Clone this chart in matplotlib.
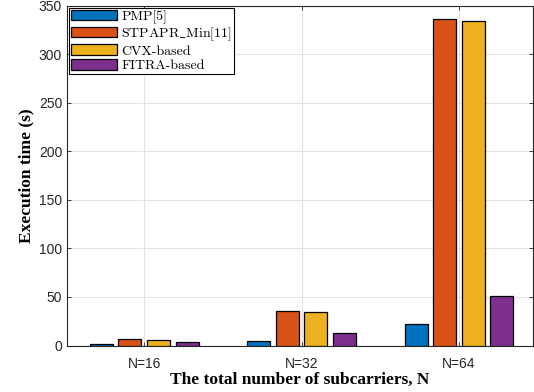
import numpy as np
import matplotlib
matplotlib.use("Agg")
import matplotlib.pyplot as plt

plt.rcParams["mathtext.fontset"] = "cm"

# Execution time per algorithm for each subcarrier count
groups = ["N=16", "N=32", "N=64"]
methods = ["PMP[5]", r"STPAPR$\_$Min[11]", "CVX-based", "FITRA-based"]
pmp = [1.3, 5.1, 21.9]
stpapr = [6.8, 35.5, 336.5]
cvx = [5.7, 34.9, 334.5]
fitra = [3.4, 12.9, 51.3]
yticks = [0, 50, 100, 150, 200, 250, 300, 350]

colors = ["#0072BD", "#D95319", "#EDB120", "#7E2F8E"]

fig = plt.figure(figsize=(5.34, 3.92), dpi=100)
ax = fig.add_axes([67 / 534, 46.5 / 392, 466 / 534, 340 / 392])

x = np.arange(1, len(groups) + 1)
width = 0.146
pitch = 0.182
series = [pmp, stpapr, cvx, fitra]
for i, (vals, lab) in enumerate(zip(series, methods)):
    ax.bar(x + (i - 1.5) * pitch, vals, width, color=colors[i],
           edgecolor="black", linewidth=0.9, label=lab, zorder=3)

ax.set_xlim(0.51, 3.47)
ax.set_ylim(0, 350)
ax.set_xticks(x)
ax.set_xticklabels(groups)
ax.set_yticks(yticks)
ax.grid(True, color="#e3e3e3", linewidth=0.8, zorder=0)
ax.tick_params(direction="in", top=True, right=True, length=3,
               labelsize=10, colors="#262626", width=0.6)
ax.tick_params(axis="x", pad=8)
for lbl in ax.get_xticklabels() + ax.get_yticklabels():
    lbl.set_family("Liberation Sans")
for sp in ax.spines.values():
    sp.set_color("#262626")
    sp.set_linewidth(0.8)

ax.set_ylabel("Execution time (s)", family="Liberation Serif",
              fontweight="bold", fontsize=12.5, labelpad=3)
ax.set_xlabel("The total number of subcarriers, N", family="Liberation Serif",
              fontweight="bold", fontsize=12.5, labelpad=1)

leg = ax.legend(loc="upper left", fancybox=False, edgecolor="black",
                framealpha=1, handlelength=3.3, handleheight=0.8,
                handletextpad=0.3, borderpad=0.15, labelspacing=0.12,
                borderaxespad=0.15,
                prop={"family": ["cmr10", "DejaVu Serif"], "size": 10})
leg.get_frame().set_linewidth(0.8)

fig.savefig("out.png", dpi=100)
